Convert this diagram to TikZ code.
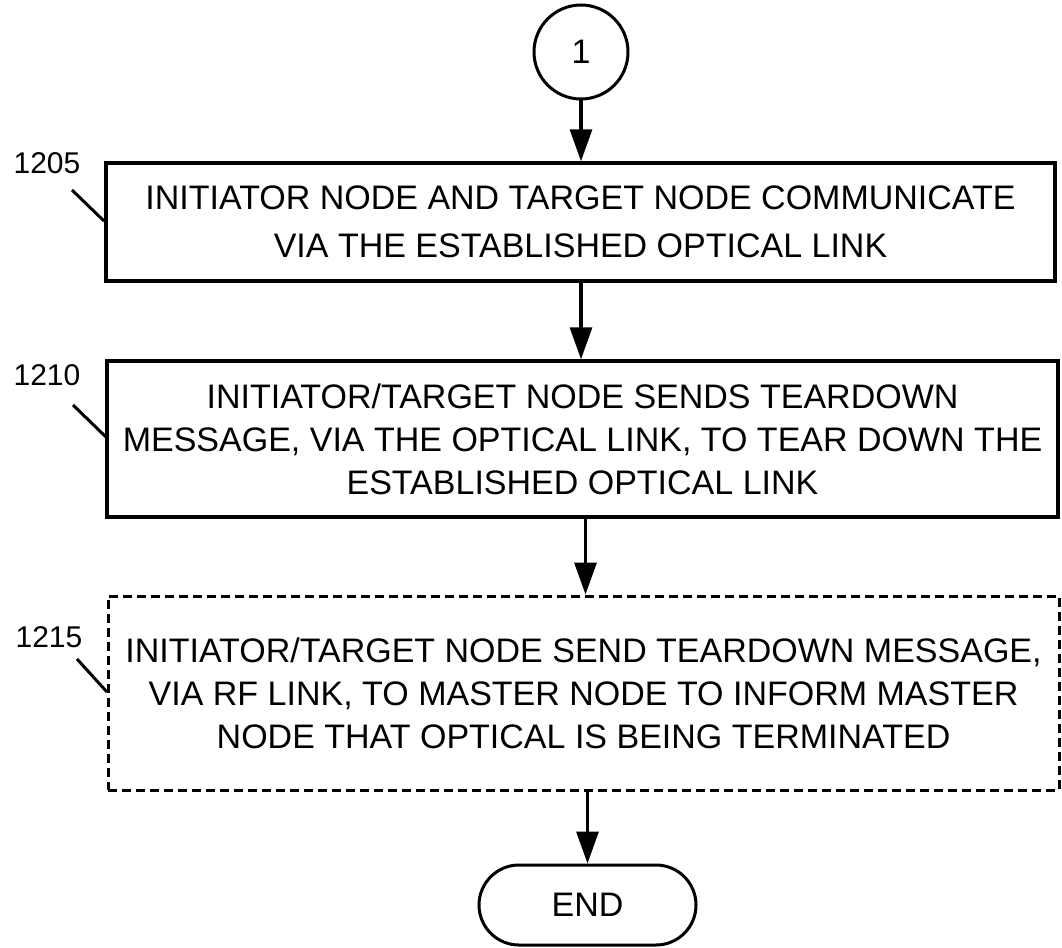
\documentclass[tikz,border=0pt]{standalone}
\usepackage{fontspec}
\setmainfont{Liberation Sans}
\usetikzlibrary{arrows.meta}
\begin{document}
\begin{tikzpicture}[x=1pt,y=-1pt,
  txt/.style={font=\fontsize{34}{43}\selectfont, align=center, inner sep=0pt},
  procbox/.style={txt, draw, line width=3.4pt, rectangle},
  optbox/.style={procbox, dashed, dash pattern=on 9pt off 5pt, line width=3pt},
  termnode/.style={txt, draw, line width=3pt, rounded corners=40pt},
  conn/.style={circle, txt, draw, line width=3pt, minimum size=94pt},
  flow/.style={line width=3.2pt, -{Triangle[width=22pt,length=32pt]}},
  refnum/.style={font=\fontsize{30}{30}\selectfont, inner sep=0pt},
  leader/.style={line width=3pt}]
\useasboundingbox (0,0) rectangle (1062,947);
\node[conn] (c1) at (581,52) {1};
\node[procbox, minimum width=949pt, minimum height=118pt, font=\fontsize{34}{48}\selectfont] (b1) at (580.5,222)
  {INITIATOR NODE AND TARGET NODE COMMUNICATE\\VIA THE ESTABLISHED OPTICAL LINK};
\node[procbox, minimum width=951pt, minimum height=156pt] (b2) at (582.5,439)
  {INITIATOR/TARGET NODE SENDS TEARDOWN\\MESSAGE, VIA THE OPTICAL LINK, TO TEAR DOWN THE\\ESTABLISHED OPTICAL LINK};
\node[optbox, minimum width=951pt, minimum height=194pt] (b3) at (583.5,693)
  {INITIATOR/TARGET NODE SEND TEARDOWN MESSAGE,\\VIA RF LINK, TO MASTER NODE TO INFORM MASTER\\NODE THAT OPTICAL IS BEING TERMINATED};
\node[termnode, minimum width=217pt, minimum height=80pt] (e) at (587.5,905) {END};
\draw[flow] (c1.south) -- (c1.south |- b1.north);
\draw[flow] (b1.south -| c1.south) -- (b2.north -| c1.south);
\coordinate (x3) at (585.5,0);
\draw[flow] (b2.south -| x3) -- (b3.north -| x3);
\draw[flow] (b3.south -| e.north) -- (e.north);
\node[refnum] (l1) at (47,163) {1205};
\node[refnum] (l2) at (47,375) {1210};
\node[refnum] (l3) at (49,637) {1215};
\coordinate (a1) at (72,190); \coordinate (a1e) at (104,221);
\coordinate (a2) at (73,405); \coordinate (a2e) at (106,437);
\coordinate (a3) at (77,659); \coordinate (a3e) at (107,692);
\draw[leader] (a1) -- (a1e);
\draw[leader] (a2) -- (a2e);
\draw[leader] (a3) -- (a3e);
\end{tikzpicture}
\end{document}
